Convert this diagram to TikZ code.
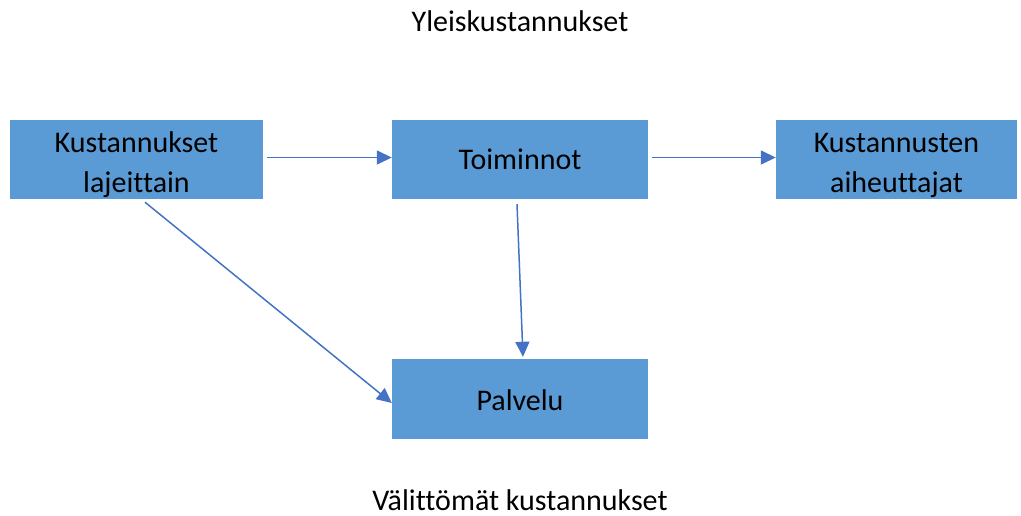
\documentclass[tikz,border=0pt]{standalone}
\usepackage{fontspec}
\setmainfont{Carlito}[Ligatures={NoCommon}]
\usetikzlibrary{arrows.meta}
\definecolor{boxblue}{HTML}{5B9BD5}
\definecolor{arrowblue}{HTML}{4472C4}
% place text so that its first baseline sits #1 above the node centre
\newcommand{\boxtext}[2]{\raisebox{#1}[0pt][0pt]{\parbox[t]{230pt}{\centering #2}}}
\tikzset{
  box/.style={fill=boxblue, draw=none, inner sep=0pt,
    font=\fontsize{30}{40}\selectfont},
  conn/.style={draw=arrowblue, line width=1.5pt, -{Triangle[length=15pt,width=14pt]}},
  label/.style={font=\fontsize{30}{36}\selectfont, inner sep=0pt, anchor=base}
}
\begin{document}
\begin{tikzpicture}[x=1pt,y=-1pt]
\useasboundingbox (0,0) rectangle (1021,516);
\node[box, minimum width=253pt, minimum height=79pt] (A) at (136.5,159.5) {\boxtext{6.5pt}{Kustannukset\\lajeittain}};
\node[box, minimum width=256pt, minimum height=79pt] (B) at (520,159.5) {\boxtext{-10.5pt}{Toiminnot}};
\node[box, minimum width=241pt, minimum height=79pt] (C) at (896.5,159.5) {\boxtext{7pt}{Kustannusten\\aiheuttajat}};
\node[box, minimum width=256pt, minimum height=80pt] (D) at (520,399) {\boxtext{-11pt}{Palvelu}};
\node[label] (T) at (520,32) {Yleiskustannukset};
\node[label] (V) at (520,510) {Välittömät kustannukset};
\draw[conn] ([xshift=4pt,yshift=2pt]A.east) -- ([yshift=2pt]B.west);
\draw[conn] ([xshift=4pt,yshift=2pt]B.east) -- ([yshift=2pt]C.west);
\draw[conn] ([xshift=-3pt,yshift=-5pt]B.south) -- ([xshift=3pt,yshift=2pt]D.north);
\draw[conn] ([xshift=8.5pt,yshift=-3pt]A.south) -- ([yshift=-4pt]D.west);
\end{tikzpicture}
\end{document}
